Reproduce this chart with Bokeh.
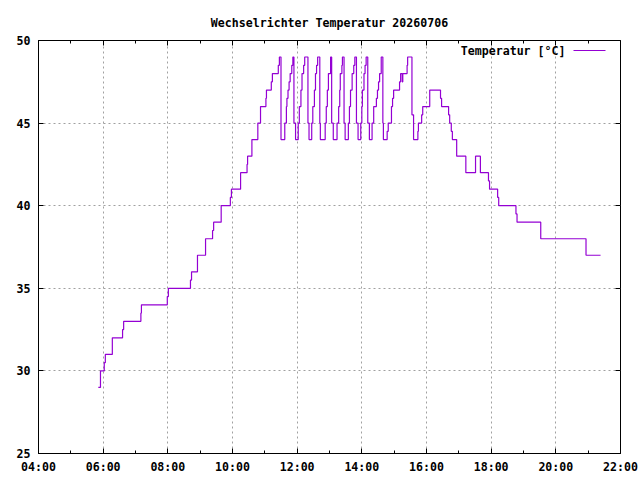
import pandas as pd
from bokeh.plotting import figure
from bokeh.models import (FixedTicker, DatetimeTickFormatter, Range1d, LinearAxis,
                          DatetimeAxis, Label, BoxAnnotation)
from bokeh.embed import file_html
from bokeh.resources import INLINE

DATE = "2026-07-06"
TITLE = "Wechselrichter Temperatur 20260706"
SERIES_NAME = "Temperatur [°C]"

times = (
    ["05:51", "05:55", "06:02", "06:04", "06:17", "06:36", "06:38", "07:10", "07:11", "07:59", "08:01", "08:42", "08:44", "08:55", "09:10", "09:23", "09:25", "09:39", "09:56", "09:58", "10:15", "10:27", "10:28", "10:36", "10:47", "10:52", "11:02", "11:03", "11:12", "11:14", "11:25", "11:27"]
    + ["11:30", "11:37", "11:40", "11:41", "11:43", "11:45", "11:47", "11:50", "11:52", "11:54", "11:57"]
    + ["12:02", "12:04", "12:07", "12:09", "12:12", "12:14", "12:20", "12:22", "12:27", "12:29", "12:32", "12:34", "12:36", "12:38", "12:42", "12:43"]
    + ["12:52", "12:54", "12:56", "12:58", "13:02", "13:04", "13:07", "13:14", "13:17", "13:19", "13:20", "13:23", "13:24", "13:27", "13:29"]
    + ["13:35", "13:37", "13:39", "13:42", "13:45", "13:47", "13:50", "13:53", "13:58", "14:00", "14:01", "14:04", "14:06", "14:08", "14:11", "14:14"]
    + ["14:19", "14:22", "14:27", "14:29", "14:31", "14:33", "14:36", "14:39", "14:40", "14:47", "14:49", "14:55", "14:57", "14:59", "15:10", "15:12", "15:15", "15:16", "15:24", "15:25", "15:33", "15:36"]
    + ["15:44", "15:45", "15:51", "15:53", "16:06", "16:26", "16:28", "16:41", "16:43", "16:46", "16:48", "16:56", "17:13", "17:31", "17:40", "17:55", "17:57", "18:12", "18:14", "18:46", "18:48", "19:32", "20:56", "21:23"]
)
temps = (
    [29, 30, 30.5, 31, 32, 32.5, 33, 33.5, 34, 34.5, 35, 35.5, 36, 37, 38, 38.5, 39, 40, 40.5, 41, 42, 42.5, 43, 44, 45, 46, 46.5, 47, 47.5, 48, 48.5, 49]
    + [44, 45, 46, 46.5, 47, 47.5, 48, 48.5, 49, 45, 44]
    + [45, 46, 47, 48, 48.5, 49, 45, 44, 45, 46, 47, 48, 48.5, 49, 45, 44]
    + [45, 46, 47, 48, 49, 45, 44, 45, 46, 47, 48, 48.5, 49, 45, 44]
    + [45, 46, 47, 48, 48.5, 49, 45, 44, 45, 46, 47, 48, 48.5, 49, 45, 44]
    + [45, 46, 46.5, 47, 47.5, 48, 49, 45, 44, 44.5, 45, 46, 46.5, 47, 47.5, 48, 47.5, 48, 48.5, 49, 45.5, 44]
    + [44.5, 45, 45.5, 46, 47, 46.5, 46, 45.5, 45, 44.5, 44, 43, 42, 43, 42, 41.5, 41, 40.5, 40, 39.5, 39, 38, 37, 37]
)

x_tick_labels = ["04:00", "06:00", "08:00", "10:00", "12:00", "14:00", "16:00", "18:00", "20:00", "22:00"]
y_ticks = [25, 30, 35, 40, 45, 50]

FONT = "DejaVu Sans Mono"
FONT_SIZE = "11.6px"
LINE_COLOR = "#9400d3"

x = pd.to_datetime([f"{DATE} {t}" for t in times])
xt = pd.to_datetime([f"{DATE} {t}" for t in x_tick_labels])
major_ms = [t.value / 1e6 for t in xt]
minor_ms = [(a + b) / 2 for a, b in zip(major_ms[:-1], major_ms[1:])]

p = figure(width=640, height=480, x_axis_type="datetime",
           x_range=Range1d(start=major_ms[0], end=major_ms[-1]),
           y_range=Range1d(start=y_ticks[0], end=y_ticks[-1]),
           output_backend="svg", toolbar_location=None,
           min_border_left=38, min_border_right=20, min_border_top=40, min_border_bottom=27)

p.background_fill_color = "white"
p.border_fill_color = "white"
p.outline_line_color = "black"
p.outline_line_width = 1

p.step(x, temps, mode="after", line_color=LINE_COLOR, line_width=1.2)

fmt = DatetimeTickFormatter(hours="%H:%M", hourmin="%H:%M", minutes="%H:%M", minsec="%H:%M",
                            days="%H:%M", months="%H:%M", years="%H:%M", seconds="%H:%M")


def style_axis(ax, standoff):
    ax.major_tick_in = 5
    ax.major_tick_out = 0
    ax.minor_tick_in = 3
    ax.minor_tick_out = 0
    ax.axis_line_color = "black"
    ax.major_tick_line_color = "black"
    ax.minor_tick_line_color = "black"
    ax.major_label_text_font = FONT
    ax.major_label_text_font_style = "bold"
    ax.major_label_text_color = "black"
    ax.major_label_text_font_size = FONT_SIZE
    ax.major_label_standoff = standoff


def mirror_axis(ax, tick_positions, length):
    # tick marks only (drawn as label-free minor ticks)
    ax.ticker = FixedTicker(ticks=[], minor_ticks=tick_positions)
    ax.major_tick_in = 0
    ax.major_tick_out = 0
    ax.minor_tick_in = length
    ax.minor_tick_out = 0
    ax.minor_tick_line_color = "black"
    ax.axis_line_color = None
    ax.major_label_standoff = 0


xa = p.xaxis[0]
xa.ticker = FixedTicker(ticks=major_ms, minor_ticks=minor_ms)
xa.formatter = fmt
style_axis(xa, 6)
ya = p.yaxis[0]
ya.ticker = FixedTicker(ticks=y_ticks)
style_axis(ya, 8)

ax_r = LinearAxis()
mirror_axis(ax_r, y_ticks, 5)
p.add_layout(ax_r, "right")
ax_t1 = DatetimeAxis(formatter=fmt)
mirror_axis(ax_t1, major_ms, 5)
p.add_layout(ax_t1, "above")
ax_t2 = DatetimeAxis(formatter=fmt)
mirror_axis(ax_t2, minor_ms, 3)
p.add_layout(ax_t2, "above")

p.xgrid.ticker = FixedTicker(ticks=major_ms)
p.ygrid.ticker = FixedTicker(ticks=y_ticks)
for g in (p.xgrid, p.ygrid):
    g.grid_line_color = "#a0a0a0"
    g.grid_line_dash = "2 3"
    g.grid_line_width = 1

p.title.text = TITLE
p.title.align = "center"
p.title.text_font = FONT
p.title.text_font_size = FONT_SIZE
p.title.text_font_style = "bold"
p.title.text_color = "black"
p.title.standoff = 22

# legend (text left of line sample, gnuplot style)
p.add_layout(Label(x=527, y=403, x_units="screen", y_units="screen", text=SERIES_NAME,
                   text_font=FONT, text_font_size=FONT_SIZE, text_font_style="bold",
                   text_align="right", text_baseline="middle", text_color="black"))
p.add_layout(BoxAnnotation(left=535, right=567, bottom=402.5, top=403.5,
                           left_units="screen", right_units="screen",
                           bottom_units="screen", top_units="screen",
                           fill_color=LINE_COLOR, fill_alpha=1, line_color=None))

open("out.html", "w").write(file_html(p, INLINE))
